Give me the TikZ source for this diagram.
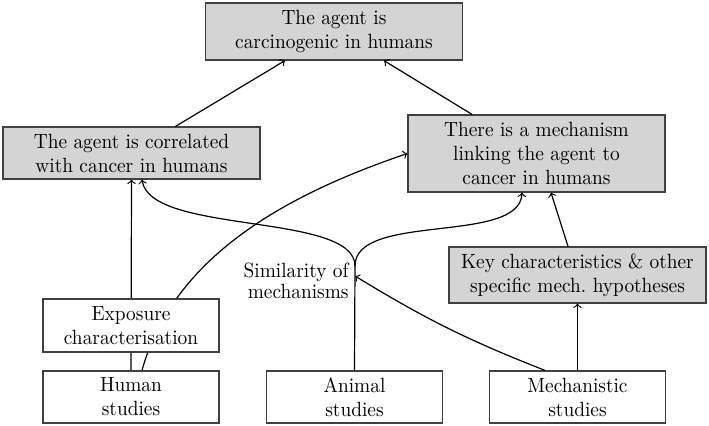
\documentclass[tikz,border=0pt]{standalone}
\usepackage{fontspec}
\setmainfont{lmroman10-regular.otf}[FakeStretch=0.94]
\usepackage{tikz}
\usetikzlibrary{arrows,backgrounds}

\begin{document}
\begin{tikzpicture}[x=0.5pt, y=0.5pt,
  every node/.style={font=\fontsize{10.3}{12}\selectfont},
  claim/.style={draw=black!75, fill=black!17, line width=0.6pt, align=center, inner sep=2pt, minimum width=128.5pt},
  study/.style={draw=black!75, fill=white, line width=0.6pt, align=center, inner sep=2pt, minimum width=88pt, minimum height=26pt},
  simlabel/.style={align=right, inner sep=0pt, font=\fontsize{10.3}{9}\selectfont},
  link/.style={line width=0.6pt}]
 \useasboundingbox (0,0) rectangle (709,-426);
 \node[claim, minimum height=28.5pt] (top) at (334,-31.5) {The agent is\\carcinogenic in humans};
 \node[claim, minimum height=26pt] (corr) at (131.5,-153) {The agent is correlated\\with cancer in humans};
 \node[claim, minimum height=38.5pt] (mech) at (536.5,-153.5) {There is a mechanism\\linking the agent to\\cancer in humans};
 \node[claim, minimum height=28pt] (key) at (577.5,-275) {Key characteristics \& other\\specific mech.\ hypotheses};
 \node[study, minimum height=26.5pt] (expo) at (131,-325.5) {Exposure\\characterisation};
 \node[study] (human) at (131,-397) {Human\\studies};
 \node[study] (animal) at (354.5,-397) {Animal\\studies};
 \node[study] (mechst) at (577.5,-397) {Mechanistic\\studies};
 \coordinate (fork) at (355,-266);
 \coordinate (simhit) at (355,-276);
 \node[simlabel, anchor=east] (simtext) at (349,-281) {Similarity of\\mechanisms};
 \begin{pgfonlayer}{background}
  \draw[link, ->] (human.north) -- (corr.south);
  \draw[link, ->] ([xshift=5.5pt]human.north) .. controls (175,-250) and (300,-190) .. (mech.west);
 \end{pgfonlayer}
 \path[link, ->]
  ([xshift=22pt]corr.north) edge ([xshift=-24.5pt]top.south)
  ([xshift=-32.25pt]mech.north) edge ([xshift=25pt]top.south)
  ([xshift=-4.75pt]key.north) edge ([xshift=7.25pt]mech.south)
  (mechst.north) edge (key.south)
  ([xshift=-16.25pt]mechst.north) edge[bend left=5] (simhit);
 \draw[link] (animal.north) -- (fork);
 \draw[link, ->] (fork) .. controls (355,-212) and (150,-235) .. ([xshift=5.25pt]corr.south);
 \draw[link, ->] (fork) .. controls (355,-212) and (520,-245) .. ([xshift=-7.25pt]mech.south);
\end{tikzpicture}
\end{document}
